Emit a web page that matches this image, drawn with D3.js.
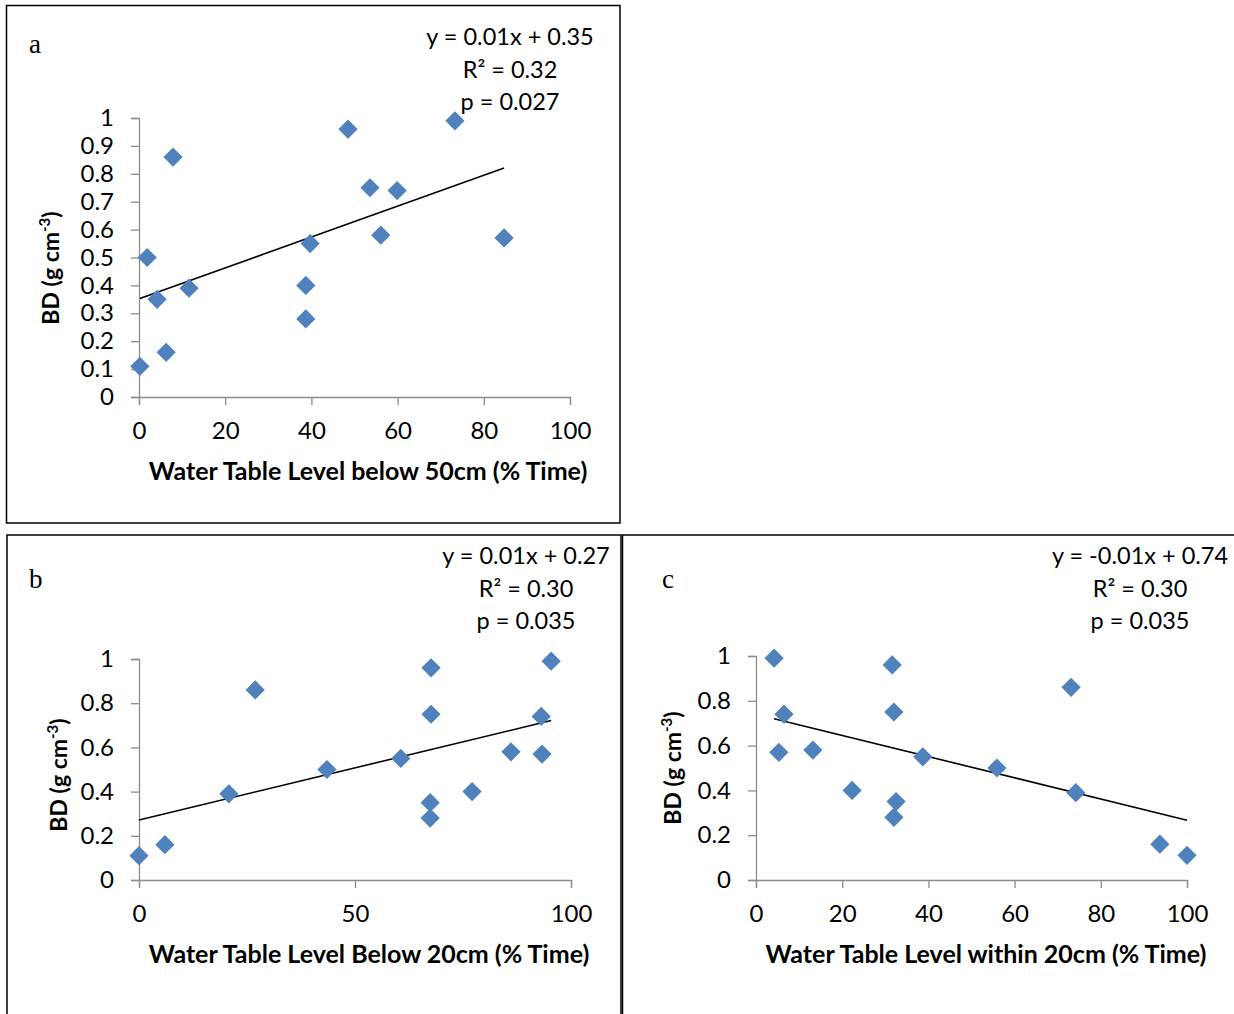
<!DOCTYPE html>
<html>
<head>
<meta charset="utf-8">
<script src="https://cdn.jsdelivr.net/npm/d3@7"></script>
<style>
  body { margin: 0; background: #fff; }
  svg { display: block; font-family: Lato, "Open Sans", sans-serif; }
</style>
</head>
<body>
<div id="root"></div>
<script>
// panel a: water table below 50cm
const aX = [0.2, 1.9, 4.2, 6.3, 7.9, 11.6, 38.7, 38.7, 39.7, 48.5, 53.6, 56.1, 59.9, 73.3, 84.7];
const aY = [0.11, 0.50, 0.35, 0.16, 0.86, 0.39, 0.40, 0.28, 0.55, 0.96, 0.75, 0.58, 0.74, 0.99, 0.57];
const aXTicks = [0, 20, 40, 60, 80, 100];
const aYTicks = [0, 0.1, 0.2, 0.3, 0.4, 0.5, 0.6, 0.7, 0.8, 0.9, 1];
const aStats = ["y = 0.01x + 0.35", "R² = 0.32", "p = 0.027"];

// panel b: water table below 20cm
const bX = [0, 6.0, 20.8, 26.9, 43.5, 60.6, 67.6, 67.6, 67.4, 67.4, 77.1, 86.1, 93.1, 93.3, 95.4];
const bY = [0.11, 0.16, 0.39, 0.86, 0.50, 0.55, 0.96, 0.75, 0.35, 0.28, 0.40, 0.58, 0.74, 0.57, 0.99];
const bXTicks = [0, 50, 100];
const bYTicks = [0, 0.2, 0.4, 0.6, 0.8, 1];
const bStats = ["y = 0.01x + 0.27", "R² = 0.30", "p = 0.035"];

// panel c: water table within 20cm
const cX = [4.2, 6.5, 5.3, 13.2, 22.3, 31.6, 32.0, 32.5, 32.0, 38.7, 55.9, 73.1, 74.2, 93.7, 100];
const cY = [0.99, 0.74, 0.57, 0.58, 0.40, 0.96, 0.75, 0.35, 0.28, 0.55, 0.50, 0.86, 0.39, 0.16, 0.11];
const cXTicks = [0, 20, 40, 60, 80, 100];
const cYTicks = [0, 0.2, 0.4, 0.6, 0.8, 1];
const cStats = ["y = -0.01x + 0.74", "R² = 0.30", "p = 0.035"];

const width = 1234, height = 1014;
const svg = d3.select("#root").append("svg")
    .attr("width", width)
    .attr("height", height);

svg.append("rect").attr("width", width).attr("height", height).attr("fill", "#fff");

// frames
svg.append("rect").attr("x", 6.5).attr("y", 5.5).attr("width", 613.5).attr("height", 517.5)
    .attr("fill", "none").attr("stroke", "#000").attr("stroke-width", 1.5);
svg.append("rect").attr("x", 7).attr("y", 535).attr("width", 614).attr("height", 500)
    .attr("fill", "none").attr("stroke", "#000").attr("stroke-width", 1.5);
svg.append("rect").attr("x", 622.5).attr("y", 535).attr("width", 640).attr("height", 500)
    .attr("fill", "none").attr("stroke", "#000").attr("stroke-width", 1.5);

function linReg(X, Y) {
    const mx = d3.mean(X), my = d3.mean(Y);
    const sxy = d3.sum(X, (x, i) => (x - mx) * (Y[i] - my));
    const sxx = d3.sum(X, x => (x - mx) * (x - mx));
    const slope = sxy / sxx;
    return {slope, intercept: my - slope * mx};
}

function drawPanel({X, Y, xTicks, yTicks, yFmt, stats, letter, letterPos, xRange, yRange,
                    statsX, statsY, xLabel, xLabelPos, yLabelPos}) {
    const g = svg.append("g");
    const xScale = d3.scaleLinear([0, 100], xRange);
    const yScale = d3.scaleLinear([0, 1], yRange);

    const xAxis = d3.axisBottom(xScale).tickValues(xTicks).tickSize(8).tickPadding(17).tickFormat(d3.format("d"));
    const yAxis = d3.axisLeft(yScale).tickValues(yTicks).tickSize(8).tickPadding(17).tickFormat(yFmt);

    g.append("g")
        .attr("transform", `translate(0,${yRange[0]})`)
        .call(xAxis)
        .call(a => a.select(".domain").attr("stroke", "#8c8c8c").attr("stroke-width", 1.3))
        .call(a => a.selectAll(".tick line").attr("stroke", "#8c8c8c").attr("stroke-width", 1.3))
        .call(a => a.selectAll(".tick text").attr("font-size", 24).attr("fill", "#000")
            .attr("font-family", "Lato, sans-serif"));

    g.append("g")
        .attr("transform", `translate(${xRange[0]},0)`)
        .call(yAxis)
        .call(a => a.select(".domain").attr("stroke", "#8c8c8c").attr("stroke-width", 1.3))
        .call(a => a.selectAll(".tick line").attr("stroke", "#8c8c8c").attr("stroke-width", 1.3))
        .call(a => a.selectAll(".tick text").attr("font-size", 24).attr("fill", "#000")
            .attr("font-family", "Lato, sans-serif"));

    // trend line over the data range
    const fit = linReg(X, Y);
    const [x0, x1] = d3.extent(X);
    const line = d3.line().x(d => xScale(d)).y(d => yScale(fit.intercept + fit.slope * d));
    g.append("path")
        .attr("d", line([x0, x1]))
        .attr("fill", "none")
        .attr("stroke", "#000")
        .attr("stroke-width", 1.6);

    // diamonds
    const diamond = d3.symbol(d3.symbolSquare, 185);
    g.selectAll(".pt").data(d3.range(X.length)).join("path")
        .attr("class", "pt")
        .attr("d", diamond)
        .attr("transform", i => `translate(${xScale(X[i])},${yScale(Y[i])}) rotate(45)`)
        .attr("fill", "#4f81bd");

    // regression statistics
    g.append("text")
        .attr("x", statsX).attr("y", statsY)
        .attr("text-anchor", "middle")
        .attr("font-size", 23.5)
        .selectAll("tspan").data(stats).join("tspan")
        .attr("x", statsX)
        .attr("dy", (d, i) => i === 0 ? 0 : 32.5)
        .text(d => d);

    g.append("text")
        .attr("x", letterPos[0]).attr("y", letterPos[1])
        .attr("font-family", "Liberation Serif, serif")
        .attr("font-size", 27)
        .text(letter);

    g.append("text")
        .attr("x", xLabelPos[0]).attr("y", xLabelPos[1])
        .attr("text-anchor", "middle")
        .attr("font-size", 25)
        .attr("font-weight", "bold")
        .text(xLabel);

    const yl = g.append("text")
        .attr("transform", `translate(${yLabelPos[0]},${yLabelPos[1]}) rotate(-90)`)
        .attr("text-anchor", "middle")
        .attr("font-size", 23)
        .attr("font-weight", "bold");
    yl.append("tspan").text("BD (g cm");
    yl.append("tspan").attr("font-size", 15).attr("dy", -9).text("-3");
    yl.append("tspan").attr("dy", 9).text(")");
}

drawPanel({
    X: aX, Y: aY, xTicks: aXTicks, yTicks: aYTicks, yFmt: d3.format("~g"), stats: aStats,
    letter: "a", letterPos: [29, 53],
    xRange: [139, 570], yRange: [397, 118],
    statsX: 510, statsY: 45,
    xLabel: "Water Table Level below 50cm (% Time)", xLabelPos: [368, 480],
    yLabelPos: [59, 268]
});

drawPanel({
    X: bX, Y: bY, xTicks: bXTicks, yTicks: bYTicks, yFmt: d3.format("~g"), stats: bStats,
    letter: "b", letterPos: [29, 588],
    xRange: [139, 571], yRange: [880, 659],
    statsX: 526, statsY: 564,
    xLabel: "Water Table Level Below 20cm (% Time)", xLabelPos: [369, 963],
    yLabelPos: [67, 775]
});

drawPanel({
    X: cX, Y: cY, xTicks: cXTicks, yTicks: cYTicks, yFmt: d3.format("~g"), stats: cStats,
    letter: "c", letterPos: [662, 588],
    xRange: [756, 1187], yRange: [880, 656],
    statsX: 1140, statsY: 564,
    xLabel: "Water Table Level within 20cm (% Time)", xLabelPos: [986, 963],
    yLabelPos: [681, 768]
});
</script>
</body>
</html>
